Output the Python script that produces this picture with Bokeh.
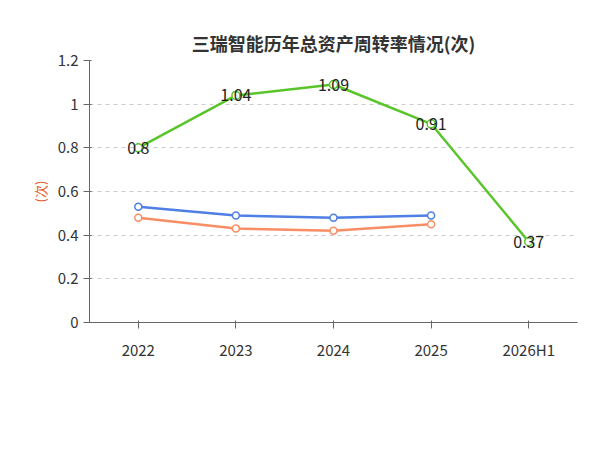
from bokeh.plotting import figure
from bokeh.models import FactorRange, Range1d, Legend, LegendItem, Title, CustomJSTickFormatter, FixedTicker
from bokeh.embed import file_html
from bokeh.resources import INLINE

years = ["2022", "2023", "2024", "2025", "2026H1"]
company = [0.8, 1.04, 1.09, 0.91, 0.37]
ind_years = ["2022", "2023", "2024", "2025"]
ind_avg = [0.53, 0.49, 0.48, 0.49]
ind_med = [0.48, 0.43, 0.42, 0.45]
labels = ["0.8", "1.04", "1.09", "0.91", "0.37"]

F = "Noto Sans CJK SC"
p = figure(frame_width=488, frame_height=262, x_range=FactorRange(*years), y_range=Range1d(0, 1.2),
           output_backend="svg", toolbar_location=None,
           min_border_left=89, min_border_right=7, min_border_top=60, min_border_bottom=112)
p.title.text = "三瑞智能历年总资产周转率情况(次)"
p.title.align = "center"
p.title.text_font = F
p.title.text_font_size = "18px"
p.title.text_color = "#333333"
p.outline_line_color = None
p.xgrid.grid_line_color = None
p.ygrid.grid_line_dash = "4 4"
p.ygrid.grid_line_color = "#cccccc"
p.yaxis.ticker = FixedTicker(ticks=[0, 0.2, 0.4, 0.6, 0.8, 1.0, 1.2])
p.yaxis.formatter = CustomJSTickFormatter(code="return String(Math.round(tick*10)/10)")
p.yaxis.axis_label = "(次)"
p.yaxis.axis_label_text_color = "#e8541e"
p.yaxis.axis_label_text_font = F
p.yaxis.axis_label_text_font_style = "normal"
p.yaxis.axis_label_text_font_size = "13px"
for ax in (p.xaxis, p.yaxis):
    ax.major_label_text_font = F
    ax.major_label_text_font_size = "15px"
    ax.major_label_text_color = "#333333"
    ax.axis_line_color = "#666666"
    ax.major_tick_line_color = "#666666"
    ax.minor_tick_line_color = None
p.xaxis.major_label_standoff = 10

g = "#5ac52a"; b = "#4f7fe5"; o = "#f98e64"
l1 = p.line(years, company, color=g, line_width=2.5)
c1 = p.scatter(years, company, size=8, fill_color="white", line_color=g, line_width=1.5)
l2 = p.line(ind_years, ind_avg, color=b, line_width=2.5)
c2 = p.scatter(ind_years, ind_avg, size=7, fill_color="white", line_color=b, line_width=1.5)
l3 = p.line(ind_years, ind_med, color=o, line_width=2.5)
c3 = p.scatter(ind_years, ind_med, size=7, fill_color="white", line_color=o, line_width=1.5)
p.text(years, company, text=labels, text_align="center", text_baseline="middle",
       text_font_size="16px", text_color="#222222", text_font={"value": F})

leg = Legend(items=[LegendItem(label="公司总资产周转率", renderers=[l1, c1]),
                    LegendItem(label="行业均值", renderers=[l2, c2]),
                    LegendItem(label="行业中位数", renderers=[l3, c3])],
             orientation="horizontal", location="center", border_line_color=None,
             label_text_font=F, label_text_font_size="15px", label_text_color="#333333",
             glyph_width=36, spacing=20, margin=8)
p.add_layout(leg, "below")
src = Title(text="制图数据来自恒生聚源数据库", align="center", text_font=F,
            text_font_size="12px", text_color="#c8961e", text_font_style="normal")
p.add_layout(src, "below")

open("out.html", "w").write(file_html(p, INLINE))
